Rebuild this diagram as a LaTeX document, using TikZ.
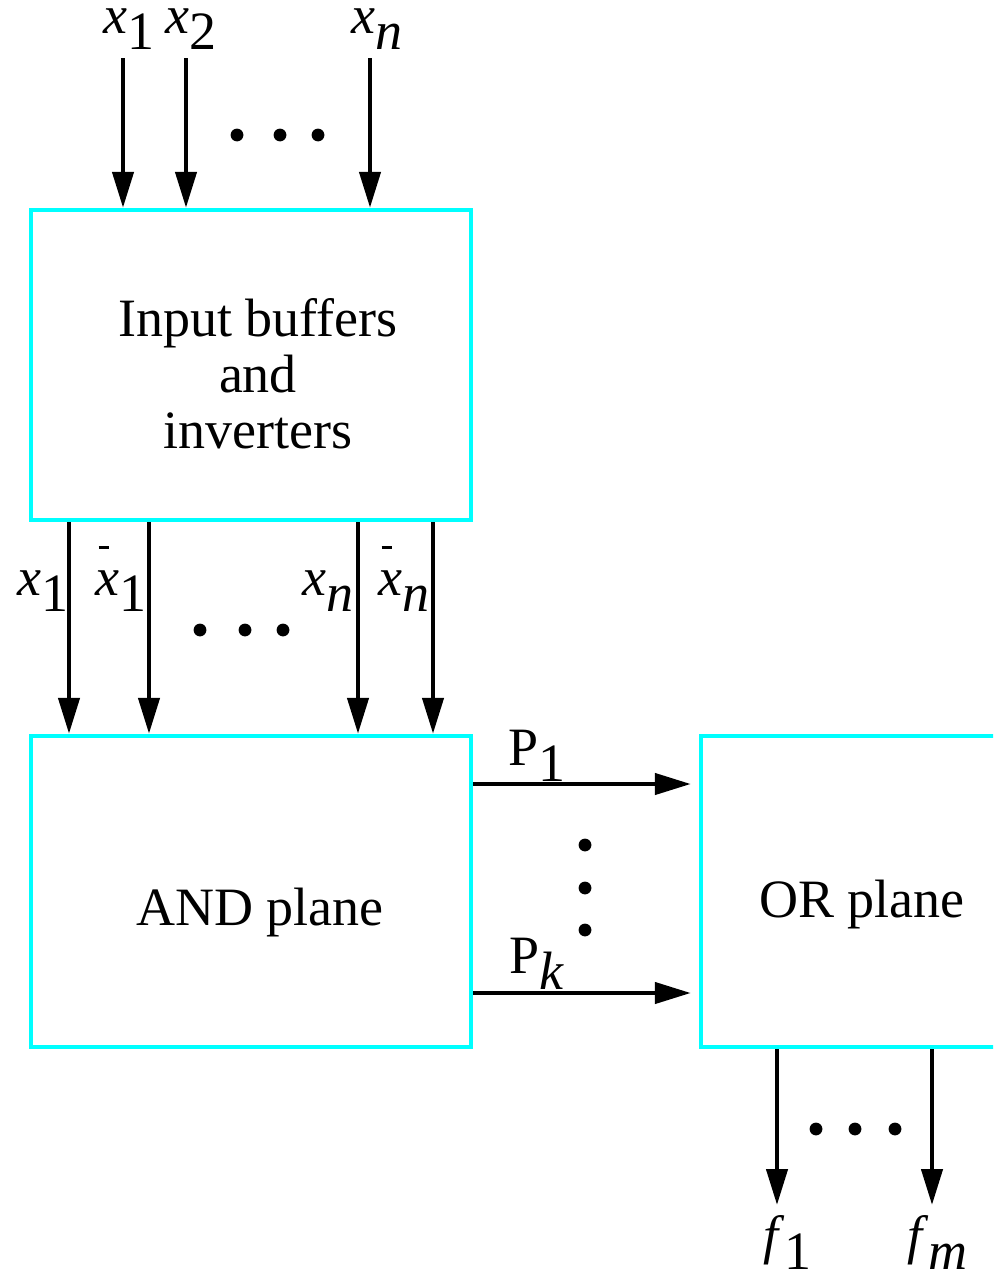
\documentclass[tikz,border=0pt]{standalone}
\usepackage{fontspec}
\setmainfont{Liberation Serif}
\usetikzlibrary{arrows.meta}
\newcommand\vsub[2]{\textit{#1}\raisebox{-0.31em}{#2}}
\newcommand\xbr{\rlap{\hspace{0.06em}\rule[0.85em]{0.2em}{0.06em}}\textit{x}}
\tikzset{
  box/.style={draw=cyan!100, line width=2.2pt, inner sep=0pt},
  arr/.style={line width=2.2pt, -{Triangle[length=18pt,width=10.5pt]}},
  lbl/.style={inner sep=0pt, font=\fontsize{27pt}{28pt}\selectfont},
  toplbl/.style={lbl, text height=0.5em},
  dot/.style={fill=black}
}
\definecolor{cyan}{RGB}{0,255,255}
\begin{document}
\begin{tikzpicture}[x=0.5pt,y=-0.5pt]
\useasboundingbox (0,0) rectangle (993,1285);
\clip (0,0) rectangle (993,1285);
% boxes
\node[box, minimum width=220pt, minimum height=155pt] (ib) at (251,365) {};
\node[box, minimum width=220pt, minimum height=155.5pt] (and) at (251,891.5) {};
\node[box, minimum width=220pt, minimum height=155.5pt] (or) at (921,891.5) {};
% box texts
\node[lbl, anchor=base, align=center] (ibt) at (258,448) {Input buffers\\and\\inverters};
\node[lbl, anchor=base] (andt) at (260,925) {AND plane};
\node[lbl, anchor=base] (ort) at (862,917) {OR plane};
% top inputs
\coordinate (i1) at (123,58);
\coordinate (i2) at (186,58);
\coordinate (in) at (370,58);
\draw[arr] (i1) -- (i1 |- ib.north);
\draw[arr] (i2) -- (i2 |- ib.north);
\draw[arr] (in) -- (in |- ib.north);
\node[toplbl, anchor=base west] (li1) at (103,33) {\vsub{x}{1}};
\node[toplbl, anchor=base west] (li2) at (165,33) {\vsub{x}{2}};
\node[toplbl, anchor=base west] (lin) at (351,33) {\vsub{x}{\textit{n}}};
\fill[dot] (237,135) circle (3.2pt) (280,135) circle (3.2pt) (318,135) circle (3.2pt);
% middle lines
\coordinate (c1) at (69,0);
\coordinate (c2) at (149,0);
\coordinate (c3) at (358,0);
\coordinate (c4) at (433,0);
\draw[arr] (ib.south -| c1) -- (and.north -| c1);
\draw[arr] (ib.south -| c2) -- (and.north -| c2);
\draw[arr] (ib.south -| c3) -- (and.north -| c3);
\draw[arr] (ib.south -| c4) -- (and.north -| c4);
\node[lbl, anchor=base west] (m1) at (17,595) {\vsub{x}{1}};
\node[lbl, anchor=base west] (m2) at (95,595) {\vsub{\xbr}{1}};
\node[lbl, anchor=base west] (m3) at (302,595) {\vsub{x}{\textit{n}}};
\node[lbl, anchor=base west] (m4) at (378,595) {\vsub{\xbr}{\textit{n}}};
\fill[dot] (200,630) circle (3.2pt) (245,630) circle (3.2pt) (283,630) circle (3.2pt);
% product lines
\coordinate (p1) at (0,784);
\coordinate (pk) at (0,993);
\draw[arr, shorten >=4pt] (and.east |- p1) -- (or.west |- p1);
\draw[arr, shorten >=4pt] (and.east |- pk) -- (or.west |- pk);
\node[lbl, anchor=base west] (lp1) at (508,765) {P\raisebox{-0.31em}{1}};
\node[lbl, anchor=base west] (lpk) at (509,973) {P\raisebox{-0.31em}{\textit{k}}};
\fill[dot] (585,845) circle (3.2pt) (585,888) circle (3.2pt) (585,930) circle (3.2pt);
% outputs
\coordinate (f1) at (777,1205);
\coordinate (fm) at (932,1205);
\draw[arr] (or.south -| f1) -- (f1);
\draw[arr] (or.south -| fm) -- (fm);
\node[lbl, anchor=base west] (lf1) at (763,1253) {\vsub{f}{1}};
\node[lbl, anchor=base west] (lfm) at (907,1253) {\vsub{f}{\textit{m}}};
\fill[dot] (816,1129) circle (3.2pt) (855,1129) circle (3.2pt) (895,1129) circle (3.2pt);
\end{tikzpicture}
\end{document}
